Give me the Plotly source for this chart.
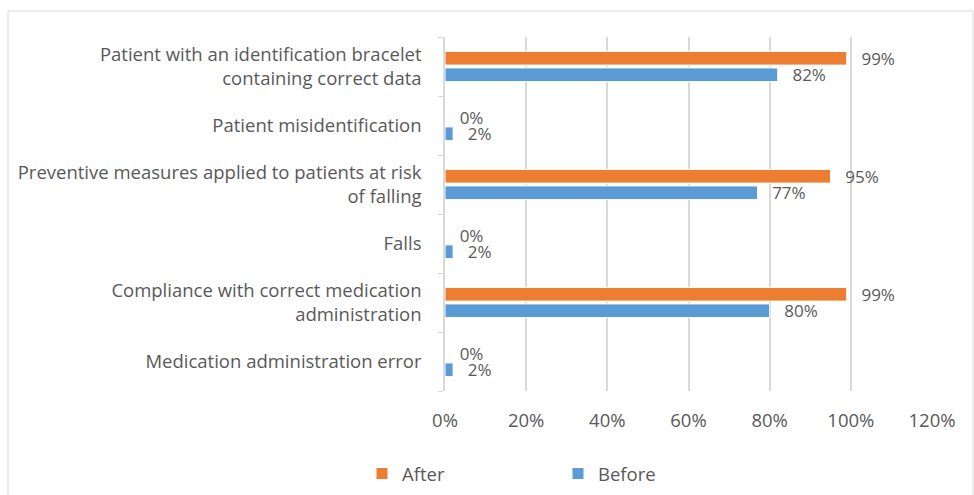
import plotly.graph_objects as go

categories = [
    "Medication administration error",
    "Compliance with correct medication<br>administration",
    "Falls",
    "Preventive measures applied to patients at risk<br>of falling",
    "Patient misidentification",
    "Patient with an identification bracelet<br>containing correct data",
]
before = [0.02, 0.80, 0.02, 0.77, 0.02, 0.82]
after = [0.00, 0.99, 0.00, 0.95, 0.00, 0.99]
x_ticks = [0, 0.2, 0.4, 0.6, 0.8, 1.0, 1.2]
x_tick_labels = ["0%", "20%", "40%", "60%", "80%", "100%", "120%"]

FONT = "Open Sans"
GRAY = "#595959"
W, H = 974, 495
L, R, T, B = 445, 42, 37, 104
PAD = "\u00a0\u00a0\u2009"

fig = go.Figure()
fig.add_trace(go.Bar(
    y=categories, x=before, name="Before", orientation="h",
    marker=dict(color="#5b9bd5", line=dict(color="white", width=1)),
    text=[f"{PAD}{round(v*100)}%" for v in before],
    textposition="outside", cliponaxis=False, constraintext="none",
    textfont=dict(family=FONT, size=17, color=GRAY),
    legendrank=2,
))
fig.add_trace(go.Bar(
    y=categories, x=after, name="After", orientation="h",
    marker=dict(color="#ed7d31", line=dict(color="white", width=1)),
    text=[f"{PAD}{round(v*100)}%" for v in after],
    textposition="outside", cliponaxis=False, constraintext="none",
    textfont=dict(family=FONT, size=17, color=GRAY),
    legendrank=1,
))

pw = W - L - R
ph = H - T - B
fig.update_layout(
    width=W, height=H,
    margin=dict(l=L, r=R, t=T, b=B, autoexpand=False),
    paper_bgcolor="white", plot_bgcolor="white",
    barmode="group", bargap=0.44, bargroupgap=0.17,
    font=dict(family=FONT, size=18.5, color=GRAY),
    xaxis=dict(
        range=[0, 1.2], tickvals=x_ticks, ticktext=x_tick_labels,
        showgrid=True, gridcolor="#d9d9d9", gridwidth=1.5,
        zeroline=False, showline=False,
        ticks="outside", ticklen=13, tickcolor="rgba(0,0,0,0)",
        tickfont=dict(family=FONT, size=18.5, color=GRAY),
    ),
    yaxis=dict(
        type="category", categoryorder="array", categoryarray=categories,
        showline=True, linecolor="#d9d9d9", linewidth=1.5,
        ticks="outside", ticklen=5, tickcolor="#d9d9d9", tickson="boundaries",
        showgrid=False, ticklabelstandoff=18,
        tickfont=dict(family=FONT, size=18.5, color=GRAY),
    ),
    legend=dict(
        orientation="h", x=(558 - L) / pw, xanchor="center",
        y=(H - B - 474) / ph, yanchor="middle",
        entrywidth=151, entrywidthmode="pixels",
        font=dict(family=FONT, size=18.5, color=GRAY),
        itemwidth=30,
    ),
    showlegend=True,
    shapes=[dict(
        type="rect", xref="paper", yref="paper",
        x0=(8 - L) / pw, x1=(973 - L) / pw,
        y0=(H - B - 520) / ph, y1=(H - B - 11) / ph,
        line=dict(color="#d9d9d9", width=1), layer="below",
    )],
)

fig.write_html("out.html", config={"displayModeBar": False},
               post_script="document.body.style.margin='0';")
